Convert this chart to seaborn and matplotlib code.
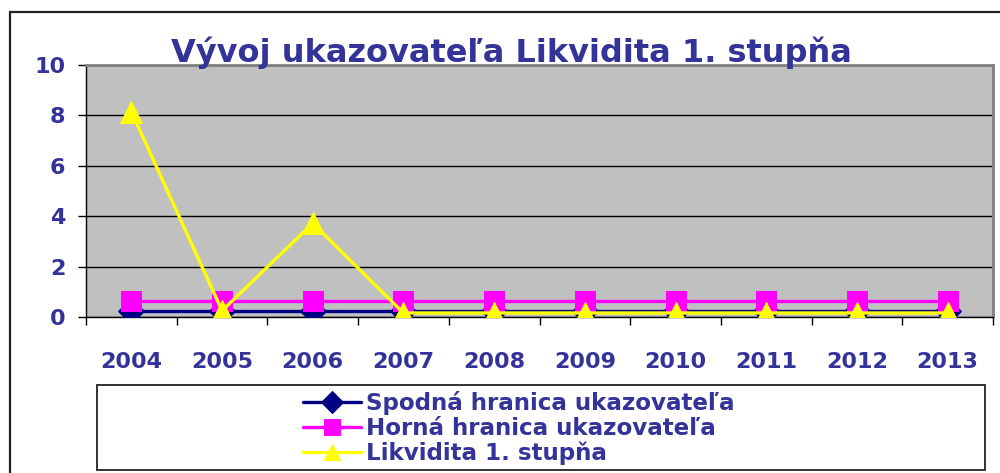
import numpy as np
import pandas as pd
import matplotlib
matplotlib.use("Agg")
import matplotlib.pyplot as plt
import seaborn as sns
from matplotlib.patches import Rectangle

YEARS = ["2004", "2005", "2006", "2007", "2008", "2009", "2010", "2011", "2012", "2013"]
LOWER = [0.25, 0.25, 0.25, 0.25, 0.25, 0.25, 0.25, 0.25, 0.25, 0.25]
UPPER = [0.65, 0.65, 0.65, 0.65, 0.65, 0.65, 0.65, 0.65, 0.65, 0.65]
LIQUIDITY = [8.15, 0.25, 3.72, 0.16, 0.16, 0.16, 0.16, 0.16, 0.16, 0.16]

SERIES_NAMES = [
    "Spodná hranica ukazovateľa",
    "Horná hranica ukazovateľa",
    "Likvidita 1. stupňa",
]
TITLE = "Vývoj ukazovateľa Likvidita 1. stupňa"
TEXT_COLOR = "#333399"

sns.set_style("white")
plt.rcParams["font.family"] = ["DejaVu Sans"]
plt.rcParams["font.weight"] = "bold"

fig = plt.figure(figsize=(10, 4.73), dpi=100)
ax = fig.add_axes([0.086, 0.3298, 0.907, 0.5328])
ax.set_facecolor("#C0C0C0")

x = np.arange(len(YEARS))
styles = [
    (LOWER, "#000080", "D", 13),
    (UPPER, "#FF00FF", "s", 14),
    (LIQUIDITY, "#FFFF00", "^", 16),
]
for i, (vals, color, marker, ms) in enumerate(styles):
    sns.lineplot(
        x=x, y=vals, ax=ax, color=color, marker=marker, markersize=ms,
        markeredgecolor=color, linewidth=2.4, label=SERIES_NAMES[i],
        zorder=3 + i, legend=False,
    )

ax.set_xlim(-0.5, len(YEARS) - 0.5)
ax.set_ylim(0, 10)
ax.set_yticks([0, 2, 4, 6, 8, 10])
ax.yaxis.grid(True, color="black", linewidth=1)
ax.set_axisbelow(True)

ax.set_xticks(x)
ax.set_xticklabels(YEARS)
ax.set_xticks(np.arange(-0.5, len(YEARS)), minor=True)
ax.tick_params(axis="x", which="major", length=0, pad=25,
               labelsize=16, labelcolor=TEXT_COLOR)
ax.tick_params(axis="x", which="minor", length=6, width=1, color="black",
               direction="out", bottom=True)
ax.tick_params(axis="y", length=6, width=1, color="black", direction="out",
               left=True, pad=9, labelsize=16, labelcolor=TEXT_COLOR)
for lab in ax.get_xticklabels() + ax.get_yticklabels():
    lab.set_fontweight("bold")

for side in ["top", "right"]:
    ax.spines[side].set_color("#808080")
    ax.spines[side].set_linewidth(2)
for side in ["left", "bottom"]:
    ax.spines[side].set_color("black")
    ax.spines[side].set_linewidth(1)
ax.set_xlabel("")
ax.set_ylabel("")

fig.text(0.511, 1 - 62 / 473, TITLE, ha="center", va="baseline",
         fontsize=23, fontweight="bold", color=TEXT_COLOR)

# outer chart frame
fig.patches.append(Rectangle((0.010, -0.05), 1.05, 0.05 + 1 - 12 / 473,
                             transform=fig.transFigure, fill=False,
                             edgecolor="#222222", linewidth=1.6))
# legend frame
fig.patches.append(Rectangle((0.097, 1 - 470 / 473), 0.888, 85 / 473,
                             transform=fig.transFigure, fill=False,
                             edgecolor="#333333", linewidth=1.4))

handles, labels = ax.get_legend_handles_labels()
leg = fig.legend(handles, labels, loc="center", bbox_to_anchor=(0.519, 1 - 428 / 473),
                 frameon=False, fontsize=16.6, labelspacing=0.06,
                 handlelength=2.5, handletextpad=0.25, borderpad=0)
for t in leg.get_texts():
    t.set_color(TEXT_COLOR)
    t.set_fontweight("bold")
for h in leg.legend_handles:
    h.set_markersize(11)

fig.savefig("out.png", dpi=100)
